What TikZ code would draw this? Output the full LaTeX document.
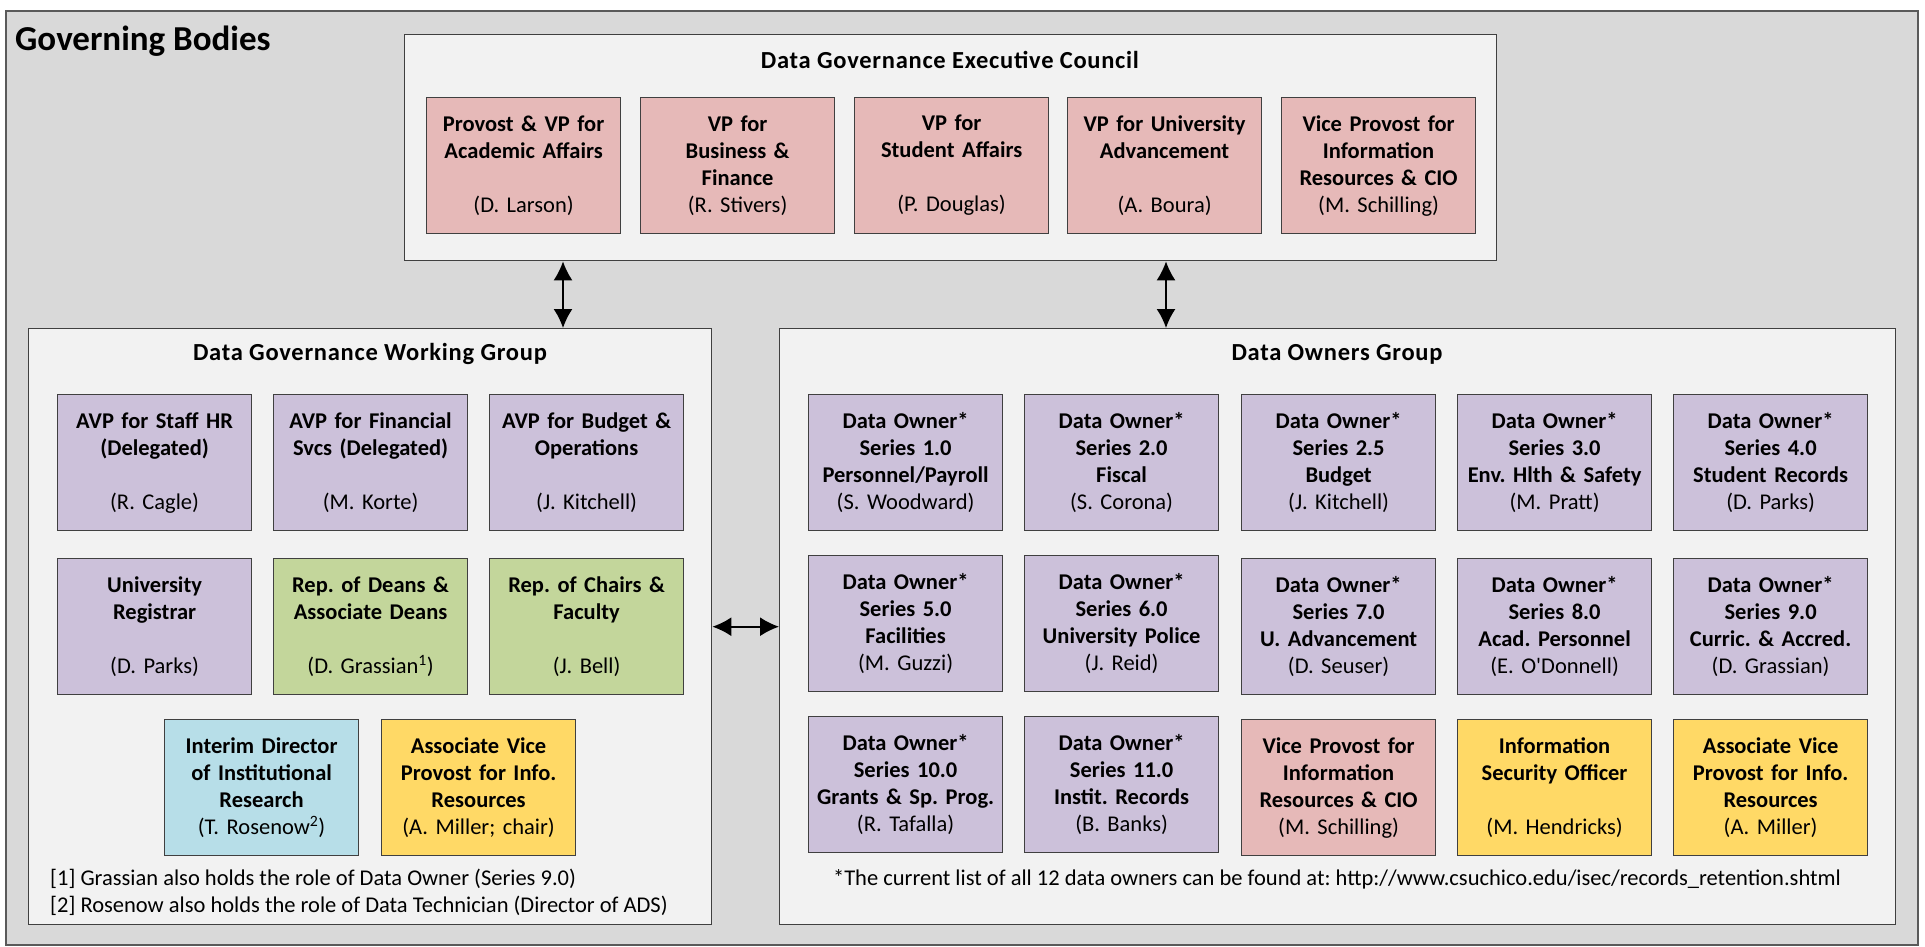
\documentclass[tikz,border=0pt]{standalone}
\usepackage{fontspec}
\setmainfont{Carlito}
\usetikzlibrary{arrows.meta}

\definecolor{outerbg}{HTML}{D9D9D9}
\definecolor{panelbg}{HTML}{F2F2F2}
\definecolor{edge}{HTML}{404040}
\definecolor{outeredge}{HTML}{5A5A5A}
\definecolor{pinkfill}{HTML}{E6B9B8}
\definecolor{lilacfill}{HTML}{CCC1DA}
\definecolor{greenfill}{HTML}{C3D69B}
\definecolor{bluefill}{HTML}{B7DEE8}
\definecolor{goldfill}{HTML}{FFD966}

\begin{document}
\frenchspacing
\begin{tikzpicture}[x=1pt,y=-1pt,
  panel/.style={draw=edge, line width=1.4pt, fill=panelbg, anchor=north west, inner sep=0pt},
  paneltitle/.style={font=\fontsize{24.5}{29}\selectfont\bfseries\addfontfeature{LetterSpace=3}, inner sep=0pt},
  role/.style={draw=edge, line width=1.2pt, anchor=north west, minimum width=194pt,
    minimum height=136pt, inner sep=0pt, text width=192pt, align=center,
    font=\fontsize{22.5}{27}\selectfont\bfseries},
  pinkrole/.style={role, fill=pinkfill},
  lilacrole/.style={role, fill=lilacfill},
  greenrole/.style={role, fill=greenfill},
  bluerole/.style={role, fill=bluefill},
  goldrole/.style={role, fill=goldfill},
  note/.style={font=\fontsize{22.5}{27}\selectfont, inner sep=0pt},
  biarrow/.style={{Latex[length=19pt,width=19pt]}-{Latex[length=19pt,width=19pt]}, line width=1.6pt, black}
]
\useasboundingbox (0,0) rectangle (1925,947);

% frame of the whole chart
\node[draw=outeredge, line width=1.6pt, fill=outerbg, anchor=north west, inner sep=0pt,
  minimum width=1912pt, minimum height=934pt] (outer) at (5,10) {};
\node[anchor=base west, inner sep=0pt, font=\fontsize{35}{42}\selectfont\bfseries] (heading) at (15,51) {Governing Bodies};

% the three groups
\node[panel, minimum width=1092pt, minimum height=226pt] (exec) at (404,34) {};
\node[panel, minimum width=683pt, minimum height=596pt] (wg) at (28,328) {};
\node[panel, minimum width=1116pt, minimum height=596pt] (do) at (779,328) {};

\node[paneltitle] (exectitle) at (950,60) {Data Governance Executive Council};
\node[paneltitle] (wgtitle) at (370,354) {Data Governance Working Group};
\node[paneltitle] (dotitle) at (1337,354) {Data Owners Group};

% executive council members
\node[pinkrole] (e1) at (426,97) {Provost \& VP for\\Academic Affairs\\\mbox{}\\\mdseries(D. Larson)};
\node[pinkrole] (e2) at (640,97) {VP for\\Business \&\\Finance\\\mdseries(R. Stivers)};
\node[pinkrole] (e3) at (854,97) {VP for\\Student Affairs\\\mbox{}\\\mdseries(P. Douglas)};
\node[pinkrole] (e4) at (1067,97) {VP for University\\Advancement\\\mbox{}\\\mdseries(A. Boura)};
\node[pinkrole] (e5) at (1281,97) {Vice Provost for\\Information\\Resources \& CIO\\\mdseries(M. Schilling)};

% working group members
\node[lilacrole] (w1) at (57,394) {AVP for Staff HR\\(Delegated)\\\mbox{}\\\mdseries(R. Cagle)};
\node[lilacrole] (w2) at (273,394) {AVP for Financial\\Svcs (Delegated)\\\mbox{}\\\mdseries(M. Korte)};
\node[lilacrole] (w3) at (489,394) {AVP for Budget \&\\Operations\\\mbox{}\\\mdseries(J. Kitchell)};
\node[lilacrole] (w4) at (57,558) {University\\Registrar\\\mbox{}\\\mdseries(D. Parks)};
\node[greenrole] (w5) at (273,558) {Rep. of Deans \&\\Associate Deans\\\mbox{}\\\mdseries(D. Grassian\textsuperscript{1})};
\node[greenrole] (w6) at (489,558) {Rep. of Chairs \&\\Faculty\\\mbox{}\\\mdseries(J. Bell)};
\node[bluerole] (w7) at (164,719) {Interim Director\\of Institutional\\Research\\\mdseries(T. Rosenow\textsuperscript{2})};
\node[goldrole] (w8) at (381,719) {Associate Vice\\Provost for Info.\\Resources\\\mdseries(A. Miller; chair)};

\node[note, anchor=west] (fn1) at (50,879) {[1] Grassian also holds the role of Data Owner (Series 9.0)};
\node[note, anchor=west] (fn2) at (50,906) {[2] Rosenow also holds the role of Data Technician (Director of ADS)};

% data owners
\node[lilacrole] (d1) at (808,394) {Data Owner*\\Series 1.0\\Personnel/Payroll\\\mdseries(S. Woodward)};
\node[lilacrole] (d2) at (1024,394) {Data Owner*\\Series 2.0\\Fiscal\\\mdseries(S. Corona)};
\node[lilacrole] (d3) at (1241,394) {Data Owner*\\Series 2.5\\Budget\\\mdseries(J. Kitchell)};
\node[lilacrole] (d4) at (1457,394) {Data Owner*\\Series 3.0\\Env. Hlth \& Safety\\\mdseries(M. Pratt)};
\node[lilacrole] (d5) at (1673,394) {Data Owner*\\Series 4.0\\Student Records\\\mdseries(D. Parks)};

\node[lilacrole] (d6) at (808,555) {Data Owner*\\Series 5.0\\Facilities\\\mdseries(M. Guzzi)};
\node[lilacrole] (d7) at (1024,555) {Data Owner*\\Series 6.0\\University Police\\\mdseries(J. Reid)};
\node[lilacrole] (d8) at (1241,558) {Data Owner*\\Series 7.0\\U. Advancement\\\mdseries(D. Seuser)};
\node[lilacrole] (d9) at (1457,558) {Data Owner*\\Series 8.0\\Acad. Personnel\\\mdseries(E. O\textquotesingle Donnell)};
\node[lilacrole] (d10) at (1673,558) {Data Owner*\\Series 9.0\\Curric. \& Accred.\\\mdseries(D. Grassian)};

\node[lilacrole] (d11) at (808,716) {Data Owner*\\Series 10.0\\Grants \& Sp. Prog.\\\mdseries(R. Tafalla)};
\node[lilacrole] (d12) at (1024,716) {Data Owner*\\Series 11.0\\Instit. Records\\\mdseries(B. Banks)};
\node[pinkrole] (d13) at (1241,719) {Vice Provost for\\Information\\Resources \& CIO\\\mdseries(M. Schilling)};
\node[goldrole] (d14) at (1457,719) {Information\\Security Officer\\\mbox{}\\\mdseries(M. Hendricks)};
\node[goldrole] (d15) at (1673,719) {Associate Vice\\Provost for Info.\\Resources\\\mdseries(A. Miller)};

\node[note] (dofoot) at (1337,879) {*The current list of all 12 data owners can be found at: http://www.csuchico.edu/isec/records\_retention.shtml};

% links between the groups
\coordinate (leftlink) at (563,0);
\coordinate (rightlink) at (1166,0);
\draw[biarrow] (exec.south -| leftlink) -- (wg.north -| leftlink);
\draw[biarrow] (exec.south -| rightlink) -- (do.north -| rightlink);
\draw[biarrow] (wg.east) -- (do.west);
\end{tikzpicture}
\end{document}
